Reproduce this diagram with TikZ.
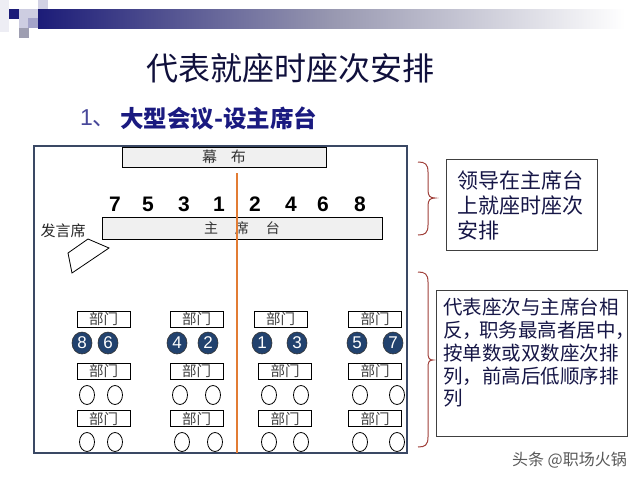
\documentclass[tikz,border=0pt]{standalone}
\usepackage{fontspec}
\setmainfont{Liberation Sans}
\newfontfamily\cjk{Noto Sans CJK SC}
\usetikzlibrary{shapes.geometric}
\definecolor{navy}{RGB}{28,28,120}
\definecolor{titlec}{RGB}{16,16,60}
\definecolor{subc}{RGB}{26,26,128}
\definecolor{roomc}{RGB}{58,72,100}
\definecolor{seatc}{RGB}{34,66,110}
\definecolor{orangec}{RGB}{226,124,52}
\definecolor{bracec}{RGB}{160,64,58}
\definecolor{boxtext}{RGB}{22,22,70}
\tikzset{
  greybox/.style={draw=black, fill=gray!12, line width=0.8pt, inner sep=0pt, text=black!80, font=\cjk\fontsize{15}{15}\selectfont},
  dept/.style={draw=black, line width=0.8pt, minimum width=53pt, minimum height=16pt, inner sep=0pt, text=black!75, font=\cjk\fontsize{14.5}{14.5}\selectfont},
  numlabel/.style={font=\bfseries\fontsize{21}{21}\selectfont, inner sep=0pt},
  seatfull/.style={ellipse, draw=black!80, fill=seatc, line width=0.6pt, minimum width=20pt, minimum height=22pt, inner sep=0pt, text=white, font=\fontsize{17}{17}\selectfont},
  seatempty/.style={ellipse, draw=black, line width=0.8pt, minimum width=15pt, minimum height=19pt, inner sep=0pt},
  infobox/.style={draw=black!75, line width=1pt, inner sep=0pt, anchor=north west},
  infotext/.style={anchor=north west, align=left, inner sep=0pt, text=boxtext},
  bracestyle/.style={draw=bracec, line width=1pt}
}
\begin{document}
\begin{tikzpicture}[x=1pt,y=-1pt]
\useasboundingbox (0,0) rectangle (640,480);
\fill[white] (0,0) rectangle (640,480);
% header bar
\shade[left color=navy, right color=white, middle color=navy!45!gray!60] (38,9) rectangle (625,28);
\fill[navy!8] (0,0) rectangle (9,32);
\fill[navy!20] (38,0) rectangle (48,9);
\fill[navy] (9,9) rectangle (19,19);
\fill[navy!22] (19,9) rectangle (38,28);
\fill[navy!40] (28,18) rectangle (38,28);
\fill[navy!35!gray!60] (19,28) rectangle (29,38);
% titles
\node[inner sep=0pt, text=titlec, font=\cjk\fontsize{32}{32}\selectfont] (title) at (290,68) {代表就座时座次安排};
\node[anchor=west, inner sep=0pt, text=subc!80!white, font=\fontsize{23}{23}\selectfont] (subnum) at (80,118) {1{\cjk 、}};
\node[anchor=west, inner sep=0pt, text=subc, font=\cjk\bfseries\fontsize{23.5}{23.5}\selectfont] (subtitle) at (120,118) {大型会议-设主席台};
% room
\draw[roomc, line width=1.5pt] (34,146) rectangle (407,453);
\node[greybox, minimum width=204pt, minimum height=20pt] (screen) at (224,157) {幕\hspace{14pt}布};
\node[greybox, minimum width=280pt, minimum height=22pt, font=\cjk\fontsize{14}{14}\selectfont] (dais) at (242,228) {主\hspace{17pt}席\hspace{17pt}台};
% orange centre line
\coordinate (ltop) at (237,173);
\coordinate (lbot) at (237,453);
\draw[orangec, line width=2.6pt] (ltop) -- (lbot);
% leader numbers
\foreach \n/\x in {7/115,5/148,3/184,1/219,2/255,4/291,6/323,8/360}
  \node[numlabel] (n\n) at (\x,204) {\n};
% speaker podium
\node[inner sep=0pt, text=black!85, font=\cjk\fontsize{15}{15}\selectfont] (podlabel) at (63,231) {发言席};
\draw[black, line width=0.8pt] (88,239) -- (109,248) -- (72,273) -- (68,253) -- cycle;
% department boxes
\foreach \c/\x in {1/103.5,2/196.5,3/280.5,4/375}
  \node[dept] (d1\c) at (\x,319) {部门};
\foreach \c/\x in {1/103.5,2/196.5,3/285,4/375}{
  \node[dept] (d2\c) at (\x,371) {部门};
  \node[dept] (d3\c) at (\x,418.5) {部门};
}
% numbered seats
\foreach \n/\x in {8/82,6/108,4/177,2/208,1/262,3/297,5/357,7/393}
  \node[seatfull] (s\n) at (\x,343) {\n};
% empty seats
\foreach \i/\x in {1/87,2/115,3/180,4/213,5/269,6/301,7/360,8/397}
  \node[seatempty] (e2\i) at (\x,395) {};
\foreach \i/\x in {1/87,2/115,3/182,4/215,5/269,6/301,7/360,8/397}
  \node[seatempty] (e3\i) at (\x,442) {};
% braces
\draw[bracestyle] (418,162) .. controls (425,162) and (428,164) .. (428,172) -- (428,190)
  .. controls (428,196) and (430,198) .. (435,198) .. controls (430,198) and (428,200) .. (428,206)
  -- (428,225) .. controls (428,233) and (425,235) .. (418,235);
\draw[bracestyle] (418,272) .. controls (425,272) and (428,274) .. (428,282) -- (428,352)
  .. controls (428,358) and (429,360) .. (433,360) .. controls (429,360) and (428,362) .. (428,368)
  -- (428,437) .. controls (428,445) and (425,447) .. (418,447);
% info boxes
\node[infobox, minimum width=151pt, minimum height=91pt] (box1) at (446,159) {};
\node[infotext, font=\cjk\fontsize{21}{25}\selectfont] (text1) at (457,171) {领导在主席台\\上就座时座次\\安排};
\node[infobox, minimum width=191pt, minimum height=146pt] (box2) at (436,290) {};
\node[infotext, font=\cjk\fontsize{19.5}{22.8}\selectfont] (text2) at (443,298) {代表座次与主席台相\\反，\kern-3pt职务最高者居中，\\按单数或双数座次排\\列，前高后低顺序排\\列};
% watermark
\node[anchor=east, inner sep=0pt, text=black!65, font=\cjk\fontsize{16}{16}\selectfont] (wm) at (627,460) {头条 @职场火锅};
\end{tikzpicture}
\end{document}
